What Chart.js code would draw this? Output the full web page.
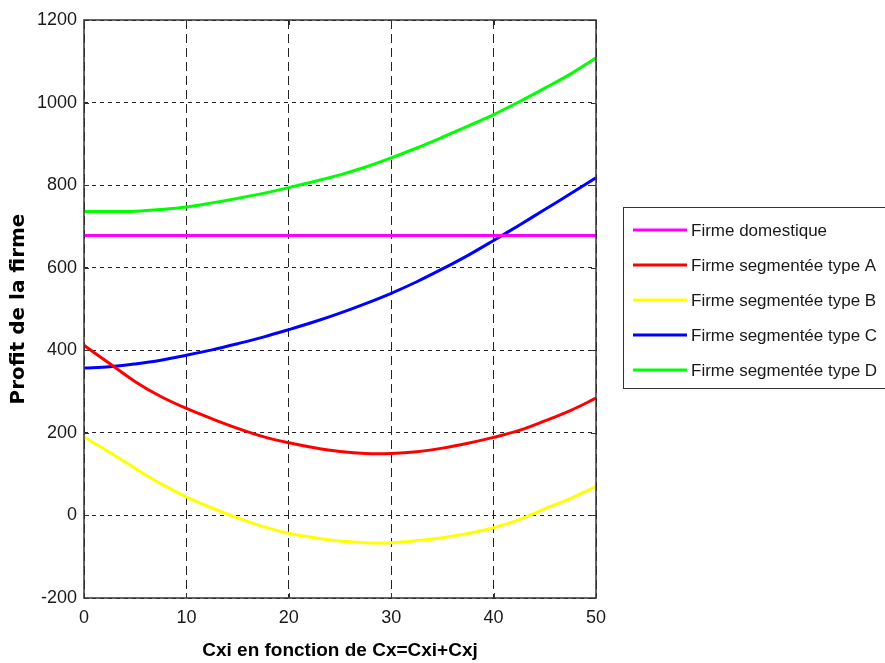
<!DOCTYPE html>
<html>
<head>
<meta charset="utf-8">
<script src="https://cdn.jsdelivr.net/npm/chart.js@4.4.1/dist/chart.umd.min.js"></script>
<style>
html,body{margin:0;padding:0;background:#fff;overflow:hidden}
#wrap{position:relative;width:885px;height:663px}
</style>
</head>
<body>
<div id="wrap"><canvas id="c"></canvas></div>
<script>
// ---- data ----
const cxi = [0,2.5,5,7.5,10,12.5,15,17.5,20,22.5,25,27.5,30,32.5,35,37.5,40,42.5,45,47.5,50];
const profitDomestique = [678,678,678,678,678,678,678,678,678,678,678,678,678,678,678,678,678,678,678,678,678];
const profitTypeA = [412,368,324,288,259,234,211,191,176,164,155,150,150,154,163,175,189,206,229,254,284];
const profitTypeB = [190,153,114,77,45,18,-6,-27,-43,-54,-62,-66,-66,-61,-54,-44,-30,-10,16,41,70];
const profitTypeC = [357,360,367,376,388,401,416,432,450,469,490,513,538,566,597,630,666,703,741,779,818];
const profitTypeD = [736,736,737,741,747,757,768,780,794,809,825,844,866,890,916,943,971,1002,1035,1069,1108];
const seriesLabels = ['Firme domestique','Firme segmentée type A','Firme segmentée type B','Firme segmentée type C','Firme segmentée type D'];
const seriesColors = ['#ff00ff','#ff0000','#ffff00','#0000ff','#00ff00'];
const xTicks = [0,10,20,30,40,50];
const yTicks = [-200,0,200,400,600,800,1000,1200];
const xTitle = 'Cxi en fonction de Cx=Cxi+Cxj';
const yTitle = 'Profit de la firme';

const allSeries = [profitDomestique, profitTypeA, profitTypeB, profitTypeC, profitTypeD];
const datasets = allSeries.map((vals, i) => ({
  label: seriesLabels[i],
  data: cxi.map((x, k) => ({x: x, y: vals[k]})),
  borderColor: seriesColors[i],
  backgroundColor: seriesColors[i],
  borderWidth: 3,
  pointRadius: 0,
  tension: 0.35,
  fill: false
}));

const boxPlugin = {
  id: 'axesBox',
  afterDatasetsDraw(chart) {
    const {ctx, chartArea: a, scales} = chart;
    ctx.save();
    ctx.strokeStyle = '#333';
    ctx.lineWidth = 1.5;
    ctx.strokeRect(a.left, a.top, a.right - a.left, a.bottom - a.top);
    ctx.lineWidth = 1;
    const tl = 5;
    ctx.beginPath();
    xTicks.forEach(v => {
      const px = Math.round(scales.x.getPixelForValue(v)) + 0.5;
      ctx.moveTo(px, a.bottom); ctx.lineTo(px, a.bottom - tl);
      ctx.moveTo(px, a.top); ctx.lineTo(px, a.top + tl);
    });
    yTicks.forEach(v => {
      const py = Math.round(scales.y.getPixelForValue(v)) + 0.5;
      ctx.moveTo(a.left, py); ctx.lineTo(a.left + tl, py);
      ctx.moveTo(a.right, py); ctx.lineTo(a.right - tl, py);
    });
    ctx.stroke();
    ctx.restore();
  }
};

const legendPlugin = {
  id: 'boxLegend',
  afterDraw(chart) {
    const ctx = chart.ctx;
    const left = 623, top = 207, right = 900, bottom = 388;
    ctx.save();
    ctx.fillStyle = '#fff';
    ctx.fillRect(left, top, right - left, bottom - top);
    ctx.strokeStyle = '#333';
    ctx.lineWidth = 1;
    ctx.strokeRect(left + 0.5, top + 0.5, right - left, bottom - top);
    ctx.font = '17px "Liberation Sans", Arial, sans-serif';
    ctx.textBaseline = 'middle';
    ctx.textAlign = 'left';
    chart.data.datasets.forEach((ds, i) => {
      const y = 230 + i * 35;
      ctx.strokeStyle = ds.borderColor;
      ctx.lineWidth = 3;
      ctx.beginPath();
      ctx.moveTo(633, y); ctx.lineTo(687, y);
      ctx.stroke();
      ctx.fillStyle = '#1a1a1a';
      ctx.fillText(ds.label, 691, y + 1);
    });
    ctx.restore();
  }
};

const tickFont = { family: '"Liberation Sans", Arial, sans-serif', size: 18 };

new Chart(document.getElementById('c'), {
  type: 'line',
  data: { datasets },
  options: {
    responsive: true,
    maintainAspectRatio: false,
    animation: false,
    layout: { padding: { left: 0, right: 289, top: 20, bottom: 0 } },
    plugins: {
      legend: { display: false },
      tooltip: { enabled: false }
    },
    scales: {
      x: {
        type: 'linear',
        min: 0, max: 50,
        afterFit(scale) { scale.height = 65; },
        afterBuildTicks(scale) { scale.ticks = xTicks.map(v => ({value: v})); },
        border: { display: false, dash: [9,5] },
        grid: { color: '#222', lineWidth: 1, drawTicks: false },
        ticks: {
          padding: 9,
          maxRotation: 0,
          color: '#1a1a1a',
          font: tickFont,
          callback: v => String(v)
        },
        title: {
          display: true,
          text: xTitle,
          color: '#000',
          padding: { top: 0, bottom: 1 },
          font: { family: '"Liberation Sans", Arial, sans-serif', size: 19, weight: 'bold' }
        }
      },
      y: {
        type: 'linear',
        min: -200, max: 1200,
        afterFit(scale) { scale.width = 84; },
        afterBuildTicks(scale) { scale.ticks = yTicks.map(v => ({value: v})); },
        border: { display: false, dash: [4,4] },
        grid: { color: '#222', lineWidth: 1, drawTicks: false },
        ticks: {
          padding: 7,
          color: '#1a1a1a',
          font: tickFont,
          callback: v => String(v)
        },
        title: {
          display: true,
          text: yTitle,
          color: '#000',
          padding: { top: 7, bottom: 0 },
          font: { family: '"DejaVu Sans", sans-serif', size: 20, weight: 'bold' }
        }
      }
    }
  },
  plugins: [boxPlugin, legendPlugin]
});
</script>
</body>
</html>
